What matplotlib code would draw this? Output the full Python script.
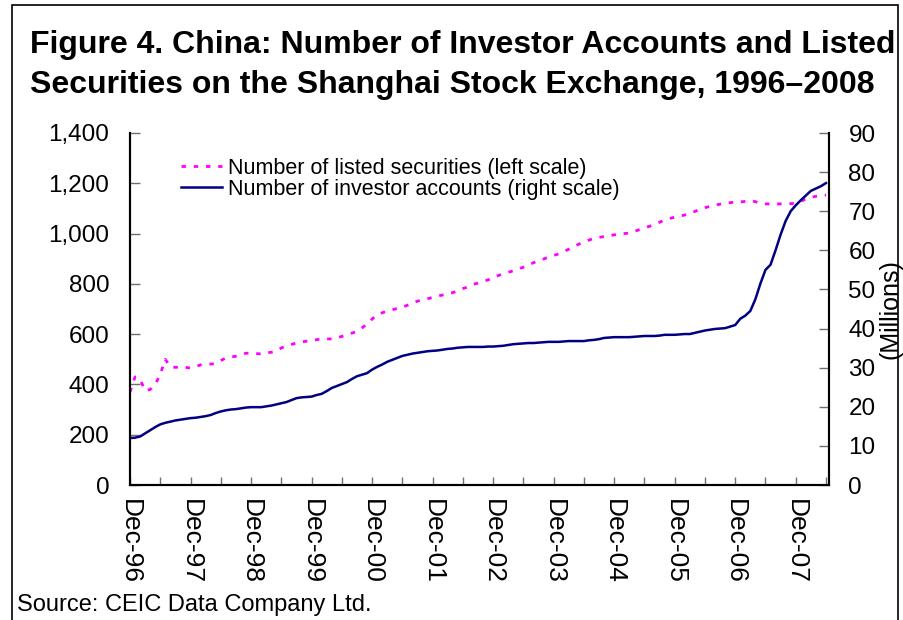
import matplotlib
matplotlib.use("Agg")
import matplotlib.pyplot as plt
from matplotlib.patches import Rectangle
import numpy as np

# ---- data (monthly, Dec-1996 .. Jun-2008) ----
listed_securities = [
    370, 430, 420, 375, 380, 400, 440, 500, 470, 468, 469, 468, 465, 470, 478, 481,
    481, 483, 495, 505, 509, 512, 518, 524, 525, 523, 521, 525, 528, 532, 545, 553,
    559, 565, 569, 572, 574, 578, 581, 581, 581, 585, 591, 597, 604, 611, 625, 640,
    660, 677, 685, 691, 697, 702, 707, 715, 725, 731, 737, 741, 746, 751, 756, 761,
    765, 772, 781, 788, 798, 803, 809, 816, 825, 833, 840, 846, 852, 860, 866, 875,
    884, 892, 899, 906, 913, 919, 928, 938, 948, 958, 967, 974, 981, 985, 988, 991,
    995, 998, 1000, 1002, 1008, 1016, 1022, 1029, 1036, 1045, 1054, 1060, 1065, 1069,
    1074, 1080, 1088, 1097, 1103, 1108, 1113, 1117, 1121, 1123, 1125, 1126, 1128, 1130,
    1127, 1120, 1118, 1118, 1118, 1118, 1118, 1119, 1121, 1128, 1138, 1144, 1148, 1151,
    1153,
]
investor_accounts = [
    12.0, 12.1, 12.4, 13.2, 14.0, 14.8, 15.5, 15.9, 16.2, 16.5, 16.7, 16.9, 17.1, 17.2,
    17.4, 17.6, 17.9, 18.4, 18.8, 19.1, 19.3, 19.4, 19.6, 19.8, 19.9, 19.9, 19.9, 20.1,
    20.3, 20.6, 20.9, 21.2, 21.7, 22.2, 22.4, 22.5, 22.6, 23.0, 23.3, 24.0, 24.8, 25.3,
    25.8, 26.3, 27.1, 27.8, 28.2, 28.6, 29.5, 30.2, 30.8, 31.5, 32.0, 32.5, 33.0, 33.3,
    33.6, 33.8, 34.0, 34.2, 34.3, 34.4, 34.6, 34.8, 34.9, 35.1, 35.2, 35.3, 35.3, 35.3,
    35.3, 35.4, 35.4, 35.5, 35.6, 35.8, 36.0, 36.1, 36.2, 36.3, 36.3, 36.4, 36.5, 36.6,
    36.6, 36.6, 36.7, 36.8, 36.8, 36.8, 36.8, 37.0, 37.1, 37.3, 37.6, 37.7, 37.8, 37.8,
    37.8, 37.8, 37.9, 38.0, 38.1, 38.1, 38.1, 38.2, 38.4, 38.4, 38.4, 38.5, 38.6, 38.6,
    38.9, 39.2, 39.5, 39.7, 39.9, 40.0, 40.1, 40.5, 40.9, 42.5, 43.3, 44.5, 47.5, 51.5,
    55.0, 56.3, 60.0, 64.0, 67.5, 70.0, 71.5, 72.8, 74.0, 75.2, 75.8, 76.4, 77.2,
]
year_labels = ["Dec-96", "Dec-97", "Dec-98", "Dec-99", "Dec-00", "Dec-01",
               "Dec-02", "Dec-03", "Dec-04", "Dec-05", "Dec-06", "Dec-07"]
left_ticks = [0, 200, 400, 600, 800, 1000, 1200, 1400]
right_ticks = [0, 10, 20, 30, 40, 50, 60, 70, 80, 90]

title_lines = ["Figure 4. China: Number of Investor Accounts and Listed",
               "Securities on the Shanghai Stock Exchange, 1996\u20132008"]
legend_labels = ["Number of listed securities (left scale)",
                 "Number of investor accounts (right scale)"]
source_text = "Source: CEIC Data Company Ltd."

plt.rcParams["font.family"] = ["Liberation Sans", "DejaVu Sans"]

W, H = 904, 620
fig = plt.figure(figsize=(W / 100, H / 100), dpi=100)
fig.patch.set_facecolor("white")

# outer frame
fig.patches.append(Rectangle((12 / W, -0.05), (898 - 12) / W, 1.05 - 5 / H,
                             transform=fig.transFigure, fill=False,
                             edgecolor="black", linewidth=1.2))

ax = fig.add_axes([130 / W, 1 - 485 / H, (829 - 130) / W, (485 - 133) / H])
ax2 = ax.twinx()

x = np.arange(len(listed_securities))
l1, = ax.plot(x, listed_securities, color="#FF00FF", linewidth=2.0,
              linestyle=(0, (1.6, 2.8)), dash_capstyle="butt")
l2, = ax2.plot(np.arange(len(investor_accounts)), investor_accounts,
               color="#000080", linewidth=1.8)

ax.set_xlim(0, 138.6)
ax.set_ylim(0, 1400)
ax2.set_ylim(0, 90)

xt = np.arange(0, 139, 6)
ax.set_xticks(xt)
ax.set_xticklabels([year_labels[i // 2] if i % 2 == 0 else "" for i in range(len(xt))],
                   rotation=270, fontsize=19)
ax.set_yticks(left_ticks)
ax.set_yticklabels([f"{v:,}" for v in left_ticks], fontsize=17.5)
ax2.set_yticks(right_ticks)
ax2.set_yticklabels([str(v) for v in right_ticks], fontsize=17.5)

ax.tick_params(axis="x", direction="in", length=6, width=1, color="#707070", pad=10)
ax.tick_params(axis="y", direction="in", length=7, width=1, color="#707070", pad=15)
ax2.tick_params(axis="y", direction="in", length=7, width=1, color="#707070", pad=14)

for a in (ax, ax2):
    a.spines["top"].set_visible(False)
    for s in ("left", "right", "bottom"):
        a.spines[s].set_linewidth(1.5)
        a.spines[s].set_color("black")

ax2.set_ylabel("(Millions)", fontsize=18, rotation=90, labelpad=2)

# legend
leg = ax.legend([l1, l2], legend_labels, loc="upper left",
                bbox_to_anchor=((181 - 130) / (829 - 130), (485 - 158) / (485 - 133)),
                frameon=False, fontsize=15.5, handlelength=1.9, handletextpad=0.3,
                labelspacing=0.0, borderaxespad=0, borderpad=0)

# title
fig.text(30 / W, 1 - 45 / H, title_lines[0], fontsize=23, fontweight="bold",
         ha="left", va="center")
fig.text(30 / W, 1 - 85 / H, title_lines[1], fontsize=23, fontweight="bold",
         ha="left", va="center")

fig.text(17 / W, 1 - 605 / H, source_text, fontsize=17, ha="left", va="center")

fig.savefig("out.png", dpi=100, facecolor="white")
